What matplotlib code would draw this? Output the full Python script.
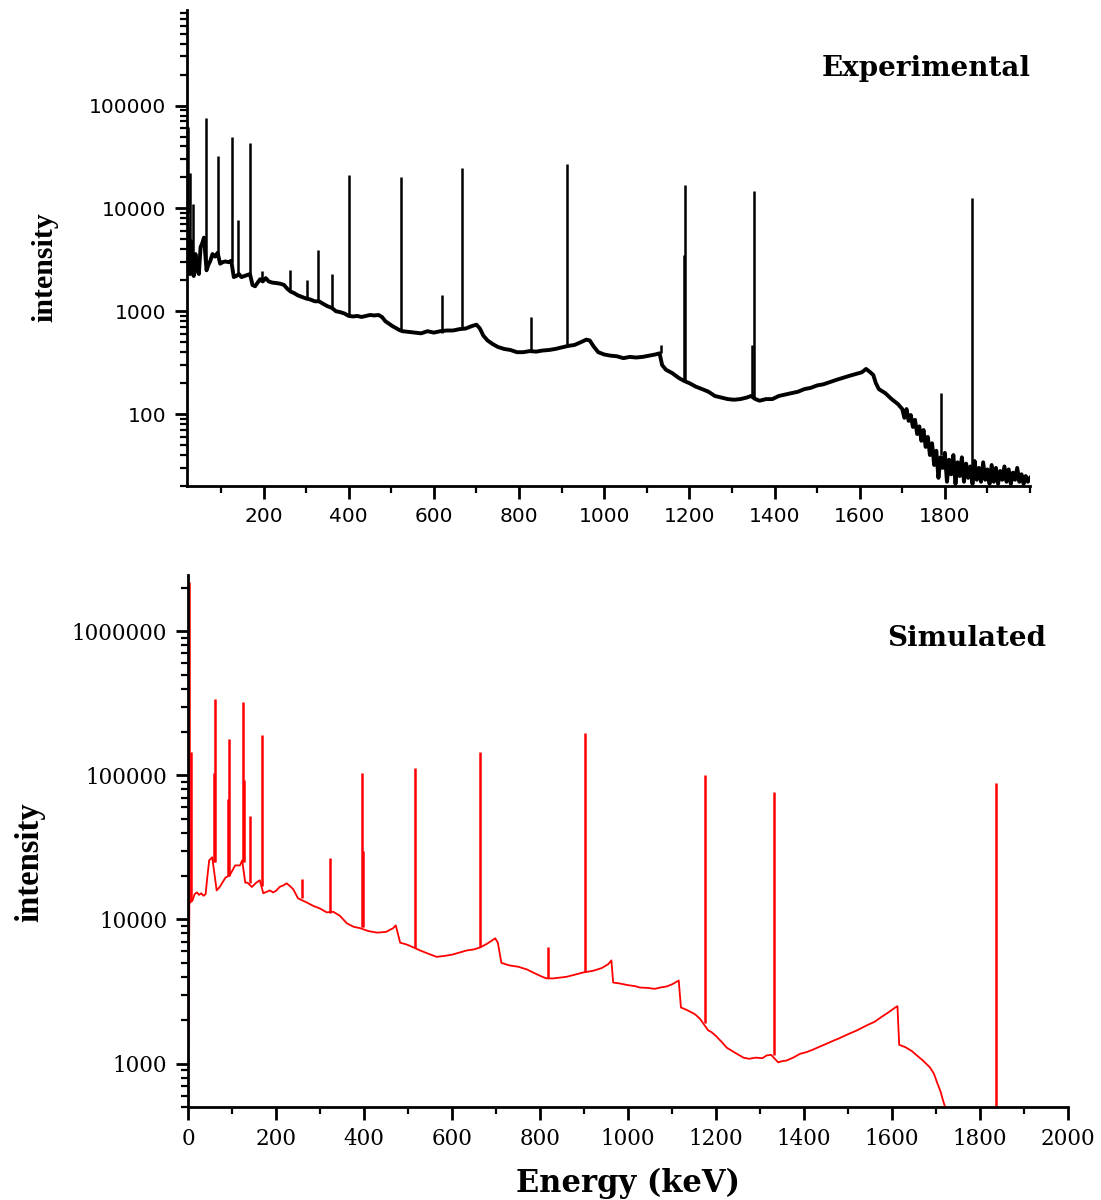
import matplotlib
matplotlib.use("Agg")
import matplotlib.pyplot as plt
from matplotlib.ticker import FixedLocator, LogLocator, NullFormatter, FuncFormatter, MultipleLocator

# ---- experimental spectrum, continuum (keV / counts)
exp_energy = [21, 24, 27, 30, 33, 36, 40, 44, 48, 52,
              56, 60, 66, 70, 75, 80, 86, 92, 98, 104,
              110, 118, 124, 130, 136, 142, 148, 155, 162, 168,
              174, 180, 186, 192, 198, 205, 212, 220, 230, 240,
              248, 256, 264, 272, 280, 290, 300, 310, 320, 330,
              340, 350, 360, 370, 380, 390, 400, 410, 420, 430,
              440, 450, 460, 470, 478, 486, 494, 502, 510, 518,
              526, 540, 555, 570, 585, 600, 615, 630, 645, 660,
              675, 690, 700, 708, 716, 726, 738, 750, 765, 780,
              795, 810, 825, 840, 855, 870, 885, 900, 915, 930,
              945, 958, 966, 976, 986, 1000, 1015, 1030, 1045, 1060,
              1075, 1090, 1105, 1120, 1130, 1136, 1145, 1160, 1175, 1188,
              1200, 1215, 1230, 1245, 1260, 1275, 1290, 1305, 1320, 1335,
              1345, 1355, 1365, 1380, 1395, 1410, 1425, 1440, 1455, 1470,
              1485, 1500, 1515, 1530, 1545, 1560, 1575, 1590, 1605, 1615,
              1625, 1632, 1638, 1645, 1660, 1675, 1690]
exp_counts = [9000, 3500, 2300, 4800, 2400, 2200, 3600, 2500, 2300, 4200,
              4600, 5200, 2500, 2800, 3100, 3600, 3400, 3700, 2900, 3000,
              3050, 3000, 3100, 2150, 2200, 2300, 2150, 2200, 2250, 2300,
              1800, 1750, 1900, 2050, 1950, 2100, 1950, 1900, 1880, 1850,
              1800, 1650, 1550, 1500, 1430, 1380, 1330, 1300, 1250, 1250,
              1180, 1120, 1080, 1000, 980, 950, 900, 890, 900, 880,
              900, 920, 910, 920, 880, 800, 760, 720, 690, 660,
              640, 630, 620, 610, 640, 620, 640, 650, 650, 670,
              680, 720, 740, 680, 580, 520, 480, 450, 430, 420,
              400, 400, 410, 405, 415, 420, 430, 445, 460, 470,
              500, 530, 520, 450, 400, 380, 370, 365, 350, 360,
              355, 360, 370, 380, 390, 300, 270, 250, 225, 210,
              200, 185, 175, 165, 150, 145, 140, 138, 140, 145,
              150, 140, 135, 140, 140, 150, 155, 160, 165, 175,
              180, 190, 195, 205, 215, 225, 235, 245, 255, 275,
              255, 240, 200, 175, 160, 140, 125]
# noisy high-energy tail
tail_energy = [1700, 1705, 1710, 1715, 1720, 1725, 1730, 1735, 1740, 1745,
               1750, 1755, 1760, 1765, 1770, 1775, 1780, 1785, 1790, 1795,
               1800, 1805, 1810, 1815, 1820, 1825, 1830, 1835, 1840, 1845,
               1850, 1855, 1860, 1865, 1870, 1875, 1880, 1885, 1890, 1895,
               1900, 1905, 1910, 1915, 1920, 1925, 1930, 1935, 1940, 1945,
               1950, 1955, 1960, 1965, 1970, 1975, 1980, 1985, 1990, 1995, 2000]
tail_counts = [112, 92, 112, 86, 98, 75, 88, 64, 76, 55,
               70, 48, 60, 40, 52, 32, 44, 24, 38, 30,
               42, 22, 36, 26, 40, 21, 34, 25, 38, 22,
               33, 24, 31, 21, 35, 23, 30, 22, 34, 23,
               29, 21, 32, 22, 30, 21, 28, 23, 31, 22,
               29, 21, 27, 23, 30, 22, 26, 21, 25, 22, 24]
# peaks: position, top, base
exp_peak_e = [22, 26, 35, 64, 92, 126, 141, 169, 197, 262, 301, 327, 360, 400, 523, 620, 667,
              828, 912, 1133, 1188, 1190, 1347, 1352, 1790, 1863]
exp_peak_top = [62000, 22000, 11000, 75000, 32000, 50000, 7800, 43000, 2450, 2500, 2000, 3900,
                2300, 21000, 20000, 1430, 24500, 870, 27300, 470, 3500, 16700, 470, 14900, 160, 12500]
exp_peak_base = [9000, 3500, 2300, 3000, 3500, 3000, 2300, 2300, 1950, 1550, 1330, 1250, 1080,
                 900, 650, 620, 670, 410, 450, 390, 210, 210, 150, 145, 40, 30]

# ---- simulated spectrum
sim_energy = [0, 3, 10, 15, 20, 25, 30, 35, 40, 43,
              48, 55, 65, 72, 78, 85, 95, 107, 118, 123,
              130, 135, 145, 155, 163, 171, 180, 186, 193, 200,
              208, 216, 224, 232, 239, 250, 270, 285, 300, 315,
              330, 345, 361, 376, 391, 410, 430, 450, 466, 472,
              482, 497, 512, 527, 545, 565, 585, 600, 617, 634,
              650, 664, 680, 698, 704, 712, 730, 750, 770, 790,
              805, 815, 830, 845, 860, 880, 900, 920, 940, 955,
              962, 966, 980, 1000, 1015, 1027, 1045, 1060, 1075, 1088,
              1100, 1115, 1120, 1130, 1140, 1152, 1163, 1182, 1190, 1200,
              1212, 1224, 1235, 1245, 1262, 1275, 1290, 1305, 1315, 1325,
              1341, 1350, 1360, 1375, 1391, 1405, 1420, 1435, 1450, 1466,
              1480, 1500, 1520, 1542, 1560, 1575, 1590, 1607, 1612, 1616,
              1630, 1645, 1656, 1670, 1686, 1695, 1702, 1710, 1716, 1722,
              1730, 2000]
sim_counts = [400, 13000, 13500, 15000, 15400, 14800, 15200, 14600, 15000, 18700,
              25700, 27000, 15900, 16800, 18000, 19500, 20300, 23700, 23700, 25700,
              18000, 18000, 16800, 18000, 18700, 15200, 15600, 15900, 15400, 15800,
              16800, 17200, 17800, 17000, 16200, 14000, 13100, 12400, 11900, 11200,
              11300, 10600, 9400, 8900, 8700, 8300, 8100, 8200, 8700, 9100,
              6900, 6700, 6400, 6100, 5800, 5500, 5600, 5700, 5900, 6100,
              6200, 6400, 6800, 7400, 6900, 5000, 4800, 4700, 4500, 4200,
              4000, 3900, 3900, 3950, 4000, 4150, 4300, 4400, 4600, 4900,
              5200, 3650, 3600, 3500, 3450, 3370, 3350, 3300, 3380, 3430,
              3550, 3770, 2450, 2380, 2300, 2200, 2050, 1700, 1650, 1550,
              1420, 1290, 1230, 1180, 1100, 1080, 1100, 1090, 1140, 1150,
              1020, 1040, 1050, 1100, 1170, 1200, 1250, 1310, 1370, 1440,
              1500, 1600, 1700, 1840, 1950, 2100, 2250, 2450, 2500, 1350,
              1300, 1220, 1140, 1050, 940, 850, 740, 640, 550, 480,
              300, 300]
sim_peak_e = [1.5, 7, 58, 61, 90, 92, 125, 127, 141, 169, 260, 322, 396, 398, 516, 664, 818,
              902, 1175, 1332, 1836]
sim_peak_top = [2200000, 145000, 103000, 340000, 69000, 178000, 324000, 93000, 52000, 190000,
                19000, 26600, 103000, 30000, 112000, 144000, 6400, 195000, 100000, 76000, 89000]
sim_peak_base = [13000, 13500, 25000, 25000, 20000, 20000, 25000, 25000, 18000, 17000, 14000,
                 11000, 8800, 8800, 6300, 6400, 3900, 4300, 1900, 1150, 300]

plt.rcParams['axes.linewidth'] = 2.0

fig = plt.figure(figsize=(11.01, 12), dpi=100)


def plain_int(v, pos):
    return f"{int(round(v))}"


def style_axes(ax, ymajors, xmajors, xminor, font, size):
    ax.set_yscale('log')
    for side in ['top', 'right']:
        ax.spines[side].set_visible(False)
    ax.yaxis.set_major_locator(FixedLocator(ymajors))
    ax.yaxis.set_major_formatter(FuncFormatter(plain_int))
    ax.yaxis.set_minor_locator(LogLocator(base=10, subs=range(2, 10), numticks=20))
    ax.yaxis.set_minor_formatter(NullFormatter())
    ax.xaxis.set_major_locator(FixedLocator(xmajors))
    ax.xaxis.set_major_formatter(FuncFormatter(plain_int))
    ax.xaxis.set_minor_locator(MultipleLocator(xminor))
    ax.tick_params(which='major', direction='out', length=9, width=2, pad=6)
    ax.tick_params(which='minor', direction='out', length=5, width=1.6)
    for lab in ax.get_xticklabels() + ax.get_yticklabels():
        lab.set_family(font)
        lab.set_fontsize(size)


# top: experimental
ax1 = fig.add_axes([0.1698, 0.595, 0.7657, 0.3967])
ax1.plot(exp_energy + tail_energy, exp_counts + tail_counts, color='black', lw=2.8)
ax1.vlines(exp_peak_e, exp_peak_base, exp_peak_top, color='black', lw=1.8)
ax1.set_xlim(20, 2000)
ax1.set_ylim(20, 850000)
style_axes(ax1, [100, 1000, 10000, 100000], list(range(200, 1900, 200)), 100, 'DejaVu Sans', 14.5)

# bottom: simulated
ax2 = fig.add_axes([0.1708, 0.0775, 0.7994, 0.4433])
ax2.plot(sim_energy, sim_counts, color='red', lw=1.3)
ax2.vlines(sim_peak_e, sim_peak_base, sim_peak_top, color='red', lw=1.8)
ax2.set_xlim(0, 2000)
ax2.set_ylim(500, 2450000)
style_axes(ax2, [1000, 10000, 100000, 1000000], list(range(0, 2001, 200)), 100, 'DejaVu Serif', 15.5)

fig.text(0.841, 0.9433, 'Experimental', family='DejaVu Serif', weight='bold', fontsize=20,
         ha='center', va='center')
fig.text(0.878, 0.468, 'Simulated', family='DejaVu Serif', weight='bold', fontsize=20,
         ha='center', va='center')
fig.text(45 / 1101, 1 - 267 / 1200, 'intensity', family='Liberation Serif', weight='bold',
         fontsize=21.5, rotation=90, ha='center', va='center')
fig.text(30 / 1101, 1 - 862 / 1200, 'intensity', family='Liberation Serif', weight='bold',
         fontsize=23.5, rotation=90, ha='center', va='center')
fig.text(628 / 1101, 1 - 1183 / 1200, 'Energy (keV)', family='DejaVu Serif', weight='bold',
         fontsize=22, ha='center', va='center')

fig.savefig('out.png', dpi=100, facecolor='white')
